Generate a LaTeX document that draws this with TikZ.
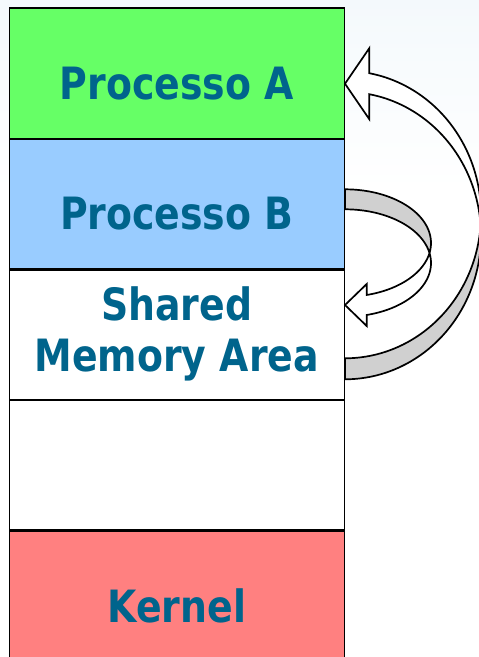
\documentclass[tikz,border=0pt]{standalone}
\usepackage{fontspec}
\newfontfamily\labelfont{DejaVu Sans}[FakeStretch=0.85]
\definecolor{procA}{RGB}{102,255,102}
\definecolor{procB}{RGB}{153,204,255}
\definecolor{kern}{RGB}{255,128,128}
\definecolor{labelblue}{RGB}{0,100,140}
\definecolor{backgrey}{RGB}{208,208,208}
\definecolor{bgtint}{RGB}{244,249,252}
\tikzset{
  membox/.style={minimum width=334.5pt, minimum height=130.5pt, inner sep=0pt, anchor=north west},
  boxedge/.style={draw=black, line width=1.8pt},
  seglabel/.style={anchor=base, inner sep=0pt, text=labelblue, font=\labelfont\bfseries\fontsize{44.5}{51.7}\selectfont},
  backband/.style={fill=backgrey, draw=black, line width=1.7pt, line join=round},
  frontband/.style={fill=white, draw=black, line width=1.7pt, line join=miter},
}
\begin{document}
\begin{tikzpicture}[x=1pt,y=1pt]
  \clip (0,-657) rectangle (479,0);
  \fill[white] (0,-657) rectangle (479,0);
  \shade[top color=bgtint, bottom color=white] (0,0) rectangle (479,-190);

  % memory segments, top to bottom (fills first, then outlines)
  \node[membox, fill=procA] (pa)  at (9.5,-8.3)   {};
  \node[membox, fill=procB] (pb)  at (9.5,-138.8) {};
  \node[membox, fill=white] (shm) at (9.5,-269.3) {};
  \node[membox, fill=white] (gap) at (9.5,-399.8) {};
  \node[membox, fill=kern]  (krn) at (9.5,-530.3) {};
  \foreach \seg in {pa,pb,shm,gap,krn}
    \draw[boxedge] (\seg.south west) rectangle (\seg.north east);

  % segment labels
  \node[seglabel] (la)  at (176.75,-99)    {Processo A};
  \node[seglabel] (lb)  at (176.75,-229.3) {Processo B};
  \node[seglabel] (ls1) at (176.75,-320)   {Shared};
  \node[seglabel] (ls2) at (176.75,-371.7) {Memory Area};
  \node[seglabel] (lk)  at (176.75,-622)   {Kernel};

  % short curved arrow: Processo B -> shared area
  \filldraw[backband] (345,-209.3) -- (345,-189.3)
    -- plot[domain=90:-10.73, samples=70, variable=\t] ({345+86*cos(\t)},{-243+53.7*sin(\t)})
    -- plot[domain=10.73:90, samples=70, variable=\t] ({345+86*cos(\t)},{-263+53.7*sin(\t)})
    -- cycle;
  \filldraw[frontband]
    plot[domain=10.73:-75.39, samples=70, variable=\t] ({345+86*cos(\t)},{-263+53.7*sin(\t)})
    -- (366.7,-326) -- (345,-305) -- (366.7,-284)
    -- plot[domain=-75.39:-10.73, samples=70, variable=\t] ({345+86*cos(\t)},{-243+53.7*sin(\t)})
    -- cycle;

  % long curved arrow: shared area -> Processo A
  \filldraw[backband] (345,-358.3) -- (345,-379.3)
    -- plot[domain=-90:4.19, samples=90, variable=\t] ({345+136*cos(\t)},{-235.6+143.7*sin(\t)})
    -- plot[domain=-4.19:-90, samples=90, variable=\t] ({345+136*cos(\t)},{-214.6+143.7*sin(\t)})
    -- cycle;
  \filldraw[frontband]
    plot[domain=-4.19:79.71, samples=90, variable=\t] ({345+136*cos(\t)},{-214.6+143.7*sin(\t)})
    -- (369.3,-48.2) -- (345,-83.7) -- (369.3,-119.2)
    -- plot[domain=79.71:4.19, samples=90, variable=\t] ({345+136*cos(\t)},{-235.6+143.7*sin(\t)})
    -- cycle;
\end{tikzpicture}
\end{document}
